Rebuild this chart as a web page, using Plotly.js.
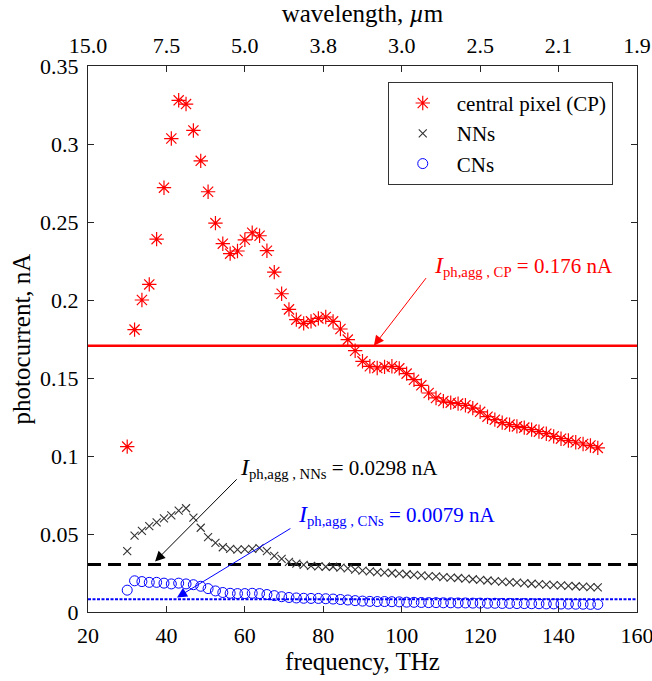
<!DOCTYPE html>
<html>
<head>
<meta charset="utf-8">
<script src="https://cdn.plot.ly/plotly-3.0.1.min.js"></script>
<style>html,body{margin:0;padding:0;background:#fff;}#chart{width:652px;height:681px;}</style>
</head>
<body>
<div id="chart"></div>
<script>
// frequency grid, THz
const freq = [30, 31.875, 33.75, 35.625, 37.5, 39.375, 41.25, 43.125, 45, 46.875,
  48.75, 50.625, 52.5, 54.375, 56.25, 58.125, 60, 61.875, 63.75, 65.625,
  67.5, 69.375, 71.25, 73.125, 75, 76.875, 78.75, 80.625, 82.5, 84.375,
  86.25, 88.125, 90, 91.875, 93.75, 95.625, 97.5, 99.375, 101.25, 103.125,
  105, 106.875, 108.75, 110.625, 112.5, 114.375, 116.25, 118.125, 120, 121.875,
  123.75, 125.625, 127.5, 129.375, 131.25, 133.125, 135, 136.875, 138.75, 140.625,
  142.5, 144.375, 146.25, 148.125, 150];

// central pixel (CP), nA
const cp = [0.106, 0.181, 0.200, 0.210, 0.239, 0.272, 0.3035, 0.328, 0.3256, 0.3087,
  0.2892, 0.2694, 0.2493, 0.2361, 0.2297, 0.2314, 0.2386, 0.2431, 0.2412, 0.2316,
  0.2179, 0.204, 0.194, 0.1874, 0.185, 0.1863, 0.1882, 0.1891, 0.1863, 0.1814,
  0.1746, 0.1675, 0.1607, 0.1575, 0.1564, 0.1571, 0.1575, 0.1562, 0.1528, 0.1489,
  0.1453, 0.1404, 0.1372, 0.1352, 0.1342, 0.1336, 0.1325, 0.1307, 0.1283, 0.1252,
  0.1233, 0.1214, 0.1201, 0.119, 0.1182, 0.1169, 0.1156, 0.1143, 0.1126, 0.1111,
  0.1099, 0.1088, 0.1077, 0.1067, 0.1052];

// nearest neighbours (NNs), nA
const nns = [0.0390, 0.0490, 0.0520, 0.0550, 0.0575, 0.0600, 0.0620, 0.0650, 0.0665, 0.0605,
  0.0540, 0.0480, 0.0443, 0.0415, 0.0405, 0.0400, 0.0402, 0.0405, 0.0410, 0.0390,
  0.0360, 0.0340, 0.0322, 0.0310, 0.0302, 0.0296, 0.0292, 0.0290, 0.0290, 0.0285,
  0.0280, 0.0272, 0.0265, 0.0260, 0.0256, 0.0252, 0.0250, 0.0246, 0.0242, 0.0238,
  0.0235, 0.0230, 0.0228, 0.0224, 0.0220, 0.0218, 0.0214, 0.0210, 0.0206, 0.0202,
  0.0198, 0.0195, 0.0191, 0.0188, 0.0185, 0.0181, 0.0178, 0.0175, 0.0172, 0.0170,
  0.0168, 0.0165, 0.0163, 0.0160, 0.0158];

// corner neighbours (CNs), nA
const cns = [0.0140, 0.0200, 0.0195, 0.0190, 0.0190, 0.0185, 0.0180, 0.0185, 0.0180, 0.0175,
  0.0165, 0.0150, 0.0135, 0.0125, 0.0120, 0.0118, 0.0118, 0.0120, 0.0118, 0.0112,
  0.0105, 0.0098, 0.0093, 0.0090, 0.0088, 0.0087, 0.0087, 0.0085, 0.0083, 0.0080,
  0.0077, 0.0073, 0.0070, 0.0068, 0.0067, 0.0067, 0.0066, 0.0065, 0.0063, 0.0062,
  0.0061, 0.0060, 0.0060, 0.0059, 0.0059, 0.0058, 0.0058, 0.0057, 0.0057, 0.0056,
  0.0056, 0.0055, 0.0055, 0.0054, 0.0054, 0.0053, 0.0053, 0.0052, 0.0052, 0.0051,
  0.0051, 0.0050, 0.0050, 0.0049, 0.0049];

// aggregate levels drawn as horizontal lines, nA
const aggLineX = [20, 160];
const aggCP = 0.1707;
const aggNN = 0.0304;
const aggCN = 0.0082;

// axis ticks
const freqTicks = [20, 40, 60, 80, 100, 120, 140, 160];
const wavelengthLabels = ['15.0', '7.5', '5.0', '3.8', '3.0', '2.5', '2.1', '1.9'];
const yTicks = [0, 0.05, 0.1, 0.15, 0.2, 0.25, 0.3, 0.35];
const yTickLabels = ['0', '0.05', '0.1', '0.15', '0.2', '0.25', '0.3', '0.35'];

const serif = 'Liberation Serif, Times New Roman, serif';
const TICK = 22, TITLE = 25;

const traces = [
  {x: aggLineX, y: [aggCP, aggCP], mode: 'lines', line: {color: '#ff0000', width: 2.5}, showlegend: false, hoverinfo: 'skip'},
  {x: aggLineX, y: [aggNN, aggNN], mode: 'lines', line: {color: '#000000', width: 3, dash: '13px,7px'}, showlegend: false, hoverinfo: 'skip'},
  {x: aggLineX, y: [aggCN, aggCN], mode: 'lines', line: {color: '#0000ff', width: 2, dash: '3px,1.5px'}, showlegend: false, hoverinfo: 'skip'},
  {x: freq, y: cp, mode: 'markers', name: 'central pixel (CP)',
    marker: {symbol: 'asterisk-open', size: 12, color: '#ff0000', line: {color: '#ff0000', width: 1.2}}},
  {x: freq, y: nns, mode: 'markers', name: 'NNs',
    marker: {symbol: 'x-thin-open', size: 8, color: '#333333', line: {color: '#333333', width: 1.1}}},
  {x: freq, y: cns, mode: 'markers', name: 'CNs',
    marker: {symbol: 'circle-open', size: 10, color: '#0000ff', line: {color: '#0000ff', width: 1}}},
  // invisible trace to activate the top axis
  {x: aggLineX, y: [0, 0], xaxis: 'x2', mode: 'markers', marker: {opacity: 0}, showlegend: false, hoverinfo: 'skip'}
];

const layout = {
  width: 652, height: 681,
  margin: {l: 88, r: 15, t: 66, b: 69, pad: 0},
  paper_bgcolor: '#ffffff', plot_bgcolor: '#ffffff',
  font: {family: serif, size: TICK, color: '#000000'},
  showlegend: true,
  legend: {x: 0.546, y: 0.971, xanchor: 'left', yanchor: 'top',
    bgcolor: '#ffffff', bordercolor: '#333333', borderwidth: 1,
    font: {family: serif, size: 21, color: '#000'}, tracegroupgap: 0, itemwidth: 58},
  xaxis: {range: [20, 160], tickvals: freqTicks, ticktext: freqTicks.map(String),
    ticks: 'inside', ticklen: 6, tickcolor: '#262626', showline: true, linecolor: '#262626', linewidth: 1,
    mirror: true, showgrid: false, zeroline: false, ticklabelstandoff: 4, ticklabeloverflow: 'allow',
    tickfont: {family: serif, size: TICK, color: '#000'},
    title: {text: 'frequency, THz', font: {family: serif, size: TITLE, color: '#000'}, standoff: 4}},
  xaxis2: {range: [20, 160], overlaying: 'x', side: 'top', tickvals: freqTicks, ticktext: wavelengthLabels,
    ticks: 'inside', ticklen: 6, tickcolor: '#262626', showline: false, showgrid: false, zeroline: false,
    ticklabelstandoff: 8, ticklabeloverflow: 'allow',
    tickfont: {family: serif, size: TICK, color: '#000'},
    title: {text: 'wavelength, <i>µ</i>m', font: {family: serif, size: TITLE, color: '#000'}, standoff: 4}},
  yaxis: {range: [0, 0.35], tickvals: yTicks, ticktext: yTickLabels,
    ticks: 'inside', ticklen: 6, tickcolor: '#262626', showline: true, linecolor: '#262626', linewidth: 1,
    mirror: 'ticks', showgrid: false, zeroline: false, ticklabelstandoff: 4, ticklabeloverflow: 'allow',
    tickfont: {family: serif, size: TICK, color: '#000'},
    title: {text: 'photocurrent, nA', font: {family: serif, size: TITLE, color: '#000'}, standoff: 2}},
  annotations: [
    {x: 92.9, y: aggCP, xref: 'x', yref: 'y', ax: 106.5, ay: 0.215, axref: 'x', ayref: 'y',
      text: '', showarrow: true, arrowhead: 2, arrowsize: 2, arrowwidth: 1, arrowcolor: '#ff0000'},
    {x: 107.8, y: 0.222, xref: 'x', yref: 'y', xanchor: 'left', yanchor: 'middle', showarrow: false,
      text: '<span style="font-size:24px"><i>I</i></span><sub>ph,agg , CP</sub> = 0.176 nA',
      font: {family: serif, size: 21, color: '#ff0000'}},
    {x: 37.1, y: aggNN + 0.002, xref: 'x', yref: 'y', ax: 58.3, ay: 0.086, axref: 'x', ayref: 'y',
      text: '', showarrow: true, arrowhead: 2, arrowsize: 2, arrowwidth: 1, arrowcolor: '#000000'},
    {x: 58.3, y: 0.0926, xref: 'x', yref: 'y', xanchor: 'left', yanchor: 'middle', showarrow: false,
      text: '<span style="font-size:24px"><i>I</i></span><sub>ph,agg , NNs</sub> = 0.0298 nA',
      font: {family: serif, size: 21, color: '#000000'}},
    {x: 42.7, y: 0.0093, xref: 'x', yref: 'y', ax: 72.0, ay: 0.0541, axref: 'x', ayref: 'y',
      text: '', showarrow: true, arrowhead: 2, arrowsize: 2, arrowwidth: 1, arrowcolor: '#0000ff'},
    {x: 73.0, y: 0.0625, xref: 'x', yref: 'y', xanchor: 'left', yanchor: 'middle', showarrow: false,
      text: '<span style="font-size:24px"><i>I</i></span><sub>ph,agg , CNs</sub> = 0.0079 nA',
      font: {family: serif, size: 21, color: '#0000ff'}}
  ]
};

Plotly.newPlot('chart', traces, layout, {displayModeBar: false, staticPlot: true});
</script>
</body>
</html>
